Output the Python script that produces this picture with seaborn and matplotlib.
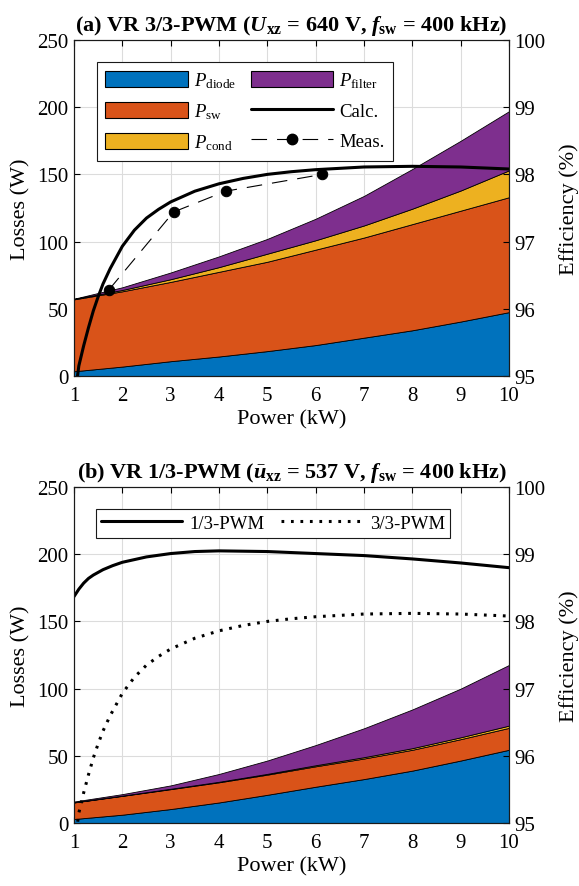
import numpy as np
import pandas as pd
import seaborn as sns
import matplotlib
matplotlib.use("Agg")
import matplotlib.pyplot as plt
from matplotlib.patches import Patch
from matplotlib.lines import Line2D

# ---- loss breakdown (W) versus output power (kW) ----
power = [1, 2, 3, 4, 5, 6, 7, 8, 9, 10]

# 3/3-PWM
p_diode_33 = [3.5, 7.0, 11.0, 14.5, 18.5, 23.0, 28.5, 34.0, 40.5, 47.5]
p_sw_33 = [53.5, 56.0, 59.0, 63.0, 66.5, 71.0, 74.5, 79.0, 82.5, 85.5]
p_cond_33 = [0.3, 1.0, 2.0, 3.5, 6.0, 7.0, 9.0, 11.5, 15.0, 20.0]
p_filter_33 = [0.2, 2.0, 5.0, 8.0, 11.0, 16.0, 22.0, 29.5, 37.0, 44.0]

# 1/3-PWM
p_diode_13 = [3.0, 6.2, 10.4, 15.3, 21.0, 27.0, 32.7, 39.0, 46.5, 54.5]
p_sw_13 = [12.3, 14.0, 14.8, 15.0, 15.0, 15.2, 15.3, 15.5, 15.9, 16.3]
p_cond_13 = [0.1, 0.2, 0.3, 0.4, 0.6, 0.8, 1.0, 1.2, 1.4, 1.7]
p_filter_13 = [0.6, 1.1, 2.5, 5.8, 9.9, 15.0, 21.5, 28.8, 36.2, 45.1]

# ---- efficiency (%) ----
power_eff_33 = [1.0, 1.1, 1.2, 1.3, 1.4, 1.5, 1.6, 1.75, 2.0, 2.25, 2.5,
                2.75, 3.0, 3.5, 4.0, 4.5, 5.0, 5.5, 6.0, 7.0, 8.0, 9.0, 10.0]
eff_calc_33 = [94.6, 95.15, 95.45, 95.72, 95.97, 96.18, 96.37, 96.6, 96.93,
               97.17, 97.35, 97.48, 97.59, 97.75, 97.86, 97.94, 98.0, 98.04,
               98.07, 98.11, 98.12, 98.11, 98.08]

power_meas_33 = [1.72, 3.06, 4.14, 6.14]
eff_meas_33 = [96.28, 97.44, 97.75, 98.0]

power_eff_13 = [1.0, 1.1, 1.2, 1.3, 1.4, 1.6, 1.8, 2.0, 2.5, 3.0, 3.5, 4.0,
                5.0, 6.0, 7.0, 8.0, 9.0, 10.0]
eff_calc_13 = [98.37, 98.48, 98.57, 98.64, 98.69, 98.77, 98.83, 98.88, 98.96,
               99.01, 99.04, 99.05, 99.04, 99.01, 98.98, 98.93, 98.87, 98.80]

loss_labels = [r"$P_{\mathrm{diode}}$", r"$P_{\mathrm{sw}}$",
               r"$P_{\mathrm{cond}}$", r"$P_{\mathrm{filter}}$"]
loss_colors = ["#0072BD", "#D95319", "#EDB120", "#7E2F8E"]

x_ticks = list(range(1, 11))
loss_ticks = [0, 50, 100, 150, 200, 250]
eff_ticks = [95, 96, 97, 98, 99, 100]

sns.set_theme(style="ticks")
plt.rcParams["font.family"] = ["Liberation Serif", "DejaVu Serif"]
plt.rcParams["mathtext.fontset"] = "custom"
plt.rcParams["mathtext.rm"] = "Liberation Serif"
plt.rcParams["mathtext.it"] = "Liberation Serif:italic"
plt.rcParams["mathtext.bf"] = "Liberation Serif:bold"
plt.rcParams["mathtext.bfit"] = "Liberation Serif:bold:italic"
plt.rcParams["font.size"] = 16
for key in ["text.color", "axes.labelcolor", "xtick.color", "ytick.color",
            "axes.edgecolor", "axes.titlecolor"]:
    plt.rcParams[key] = "black"

FS_LABEL = 16
FS_TICK = 15
FS_TITLE = 16
fig = plt.figure(figsize=(5.79, 8.87), dpi=100)
ax_a = fig.add_axes([0.1278, 0.575, 0.7513, 0.3788])
ax_b = fig.add_axes([0.1278, 0.071, 0.7513, 0.3788])

meas_style = (0, (14, 9))
dot_style = (0, (0.9, 2.2))


def style_axes(ax, ax2):
    ax.set_xlim(1, 10)
    ax.set_ylim(0, 250)
    ax.set_xticks(x_ticks)
    ax.set_yticks(loss_ticks)
    ax2.set_ylim(95, 100)
    ax2.set_yticks(eff_ticks)
    ax.grid(True, color="#dcdcdc", lw=0.8)
    ax.set_axisbelow(True)
    ax.tick_params(axis="both", direction="in", length=4, width=0.8,
                   labelsize=FS_TICK, top=True, colors="black")
    ax.tick_params(axis="x", pad=7)
    ax.tick_params(axis="y", pad=4)
    ax2.tick_params(axis="y", direction="in", length=4, width=0.8,
                    labelsize=FS_TICK, pad=4, colors="black")
    for sp in list(ax.spines.values()) + list(ax2.spines.values()):
        sp.set_color("#1a1a1a")
        sp.set_linewidth(0.8)
    ax.set_xlabel("Power (kW)", fontsize=FS_LABEL, labelpad=3)
    ax.set_ylabel("Losses (W)", fontsize=FS_LABEL, labelpad=5)
    ax2.set_ylabel("Efficiency (%)", fontsize=FS_LABEL, labelpad=10)


def stack(ax, comps):
    ax.stackplot(power, *comps, colors=loss_colors, edgecolor="black",
                 linewidth=0.6, zorder=2)


# ---- (a) 3/3-PWM ----
stack(ax_a, [p_diode_33, p_sw_33, p_cond_33, p_filter_33])
ax_a2 = ax_a.twinx()
df_calc_33 = pd.DataFrame({"P": power_eff_33, "eta": eff_calc_33})
df_meas_33 = pd.DataFrame({"P": power_meas_33, "eta": eff_meas_33})
sns.lineplot(data=df_calc_33, x="P", y="eta", ax=ax_a2, color="black",
             lw=2.2, estimator=None, sort=False)
sns.lineplot(data=df_meas_33, x="P", y="eta", ax=ax_a2, color="black",
             lw=0.8, estimator=None, sort=False, marker="o", markersize=7.5,
             markeredgecolor="black", dashes=False, linestyle=meas_style)
style_axes(ax_a, ax_a2)
ax_a.set_title(r"(a) VR 3/3-PWM ($\mathbfit{U}_{\mathbf{xz}}$ = 640 V, "
               r"$\mathbfit{f}_{\mathbf{sw}}$ = 400 kHz)",
               fontsize=FS_TITLE, fontweight="bold", pad=7, color="black")

patches = [Patch(facecolor=c, edgecolor="black", lw=0.8) for c in loss_colors]
handles_a = patches + [Line2D([], [], color="black", lw=2.2),
                       Line2D([], [], color="black", lw=0.8,
                              linestyle=meas_style, marker="o",
                              markersize=7.5)]
labels_a = loss_labels + ["Calc.", "Meas."]
leg_a = ax_a2.legend(handles_a, labels_a, ncol=2, loc="upper left",
                     bbox_to_anchor=(0.053, 0.934), borderaxespad=0,
                     fontsize=13.5, frameon=True, fancybox=False,
                     framealpha=1, edgecolor="#1a1a1a", handlelength=4.4,
                     handleheight=0.95, handletextpad=0.3, columnspacing=0.8,
                     labelspacing=0.6, borderpad=0.45)
leg_a.get_frame().set_linewidth(0.8)

# ---- (b) 1/3-PWM ----
stack(ax_b, [p_diode_13, p_sw_13, p_cond_13, p_filter_13])
ax_b2 = ax_b.twinx()
df_calc_13 = pd.DataFrame({"P": power_eff_13, "eta": eff_calc_13})
sns.lineplot(data=df_calc_13, x="P", y="eta", ax=ax_b2, color="black",
             lw=2.2, estimator=None, sort=False)
sns.lineplot(data=df_calc_33, x="P", y="eta", ax=ax_b2, color="black",
             lw=2.2, estimator=None, sort=False, linestyle=dot_style)
style_axes(ax_b, ax_b2)
ax_b.set_title(r"(b) VR 1/3-PWM ($\bar{\mathbfit{u}}_{\mathbf{xz}}$ = 537 V, "
               r"$\mathbfit{f}_{\mathbf{sw}}$ = 400 kHz)",
               fontsize=FS_TITLE, fontweight="bold", pad=7, color="black")

handles_b = [Line2D([], [], color="black", lw=2.2),
             Line2D([], [], color="black", lw=2.2, linestyle=dot_style)]
leg_b = ax_b2.legend(handles_b, ["1/3-PWM", "3/3-PWM"], ncol=2,
                     loc="upper left", bbox_to_anchor=(0.05, 0.934),
                     borderaxespad=0, fontsize=13.5, frameon=True,
                     fancybox=False, framealpha=1, edgecolor="#1a1a1a",
                     handlelength=4.3, handletextpad=0.4, columnspacing=0.9,
                     borderpad=0.3)
leg_b.get_frame().set_linewidth(0.8)

fig.savefig("out.png", dpi=100)
